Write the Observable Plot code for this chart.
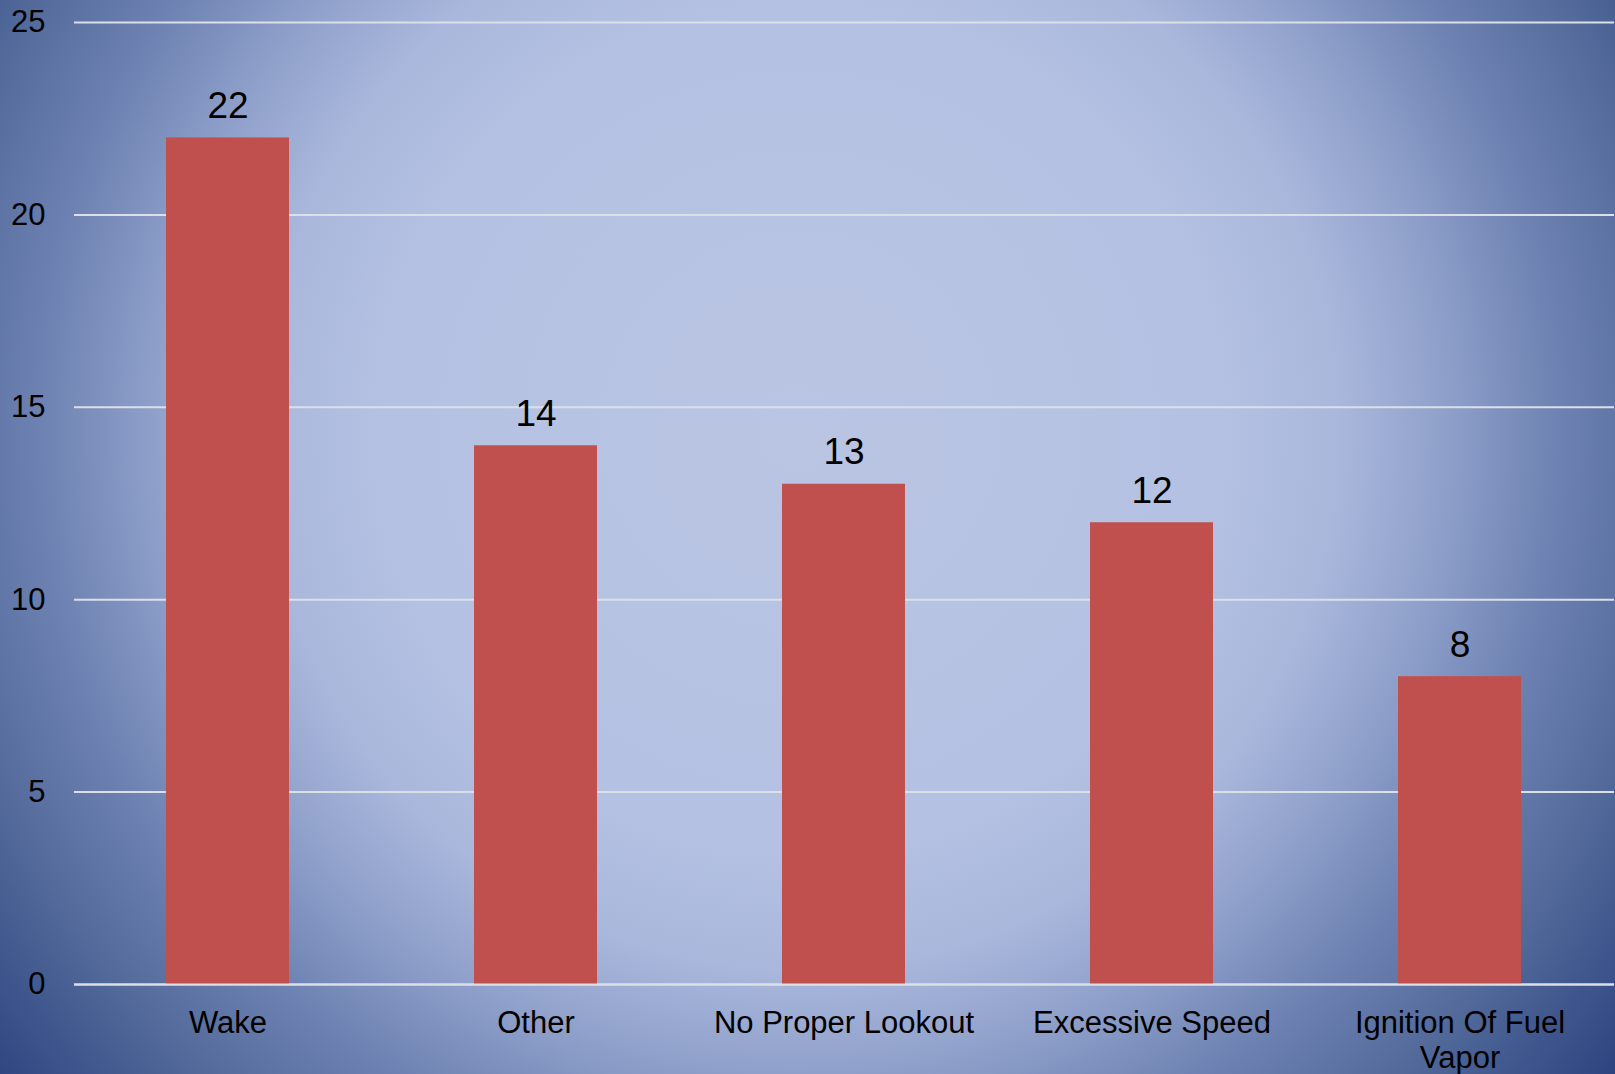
<!DOCTYPE html>
<html>
<head>
<meta charset="utf-8">
<script src="https://cdn.jsdelivr.net/npm/d3@7"></script>
<script src="https://cdn.jsdelivr.net/npm/@observablehq/plot@0.6"></script>
<style>
  html, body { margin: 0; padding: 0; overflow: hidden; background: #2c4380; }
  #chart svg { display: block; }
</style>
</head>
<body>
<div id="chart"></div>
<script>
const categories = ["Wake", "Other", "No Proper Lookout", "Excessive Speed", "Ignition Of Fuel Vapor"];
const values = [22, 14, 13, 12, 8];
const tickLabels = ["Wake", "Other", "No Proper Lookout", "Excessive Speed", "Ignition Of Fuel\nVapor"];
const yTicks = [0, 5, 10, 15, 20, 25];

const data = categories.map((c, i) => ({category: c, value: values[i]}));

const bg = "radial-gradient(circle at 800px 430px, #bac5e3 0px, #b4c1e2 420px, #a9b7dc 540px, #90a1cb 640px, #6d82b2 760px, #52699a 880px, #2c4380 1040px)";

const chart = Plot.plot({
  width: 1615,
  height: 1074,
  marginLeft: 74,
  marginRight: 1,
  marginTop: 22,
  marginBottom: 90,
  style: {
    fontFamily: "'Liberation Sans', Arial, sans-serif",
    fontSize: "31px",
    color: "#000",
    background: bg
  },
  x: {
    domain: categories,
    paddingInner: 0.6,
    paddingOuter: 0.3,
    label: null
  },
  y: {
    domain: [0, 25],
    label: null
  },
  marks: [
    Plot.gridY(yTicks, {stroke: "#dcdfe6", strokeOpacity: 1, strokeWidth: 2}),
    Plot.barY(data, {x: "category", y: "value", fill: "#c0504d"}),
    Plot.gridY([0], {stroke: "#dcdfe6", strokeOpacity: 1, strokeWidth: 2}),
    Plot.axisY(yTicks, {tickSize: 0, tickPadding: 29, fontSize: 31, fill: "#000", label: null}),
    Plot.axisX({tickSize: 0, tickPadding: 23, fontSize: 31, lineHeight: 1.15, fill: "#000", label: null,
      tickFormat: d => tickLabels[categories.indexOf(d)]}),
    Plot.text(data, {x: "category", y: "value", text: d => String(d.value), dy: -20, lineAnchor: "bottom", fontSize: 37, fill: "#000"})
  ]
});

document.getElementById("chart").appendChild(chart);
</script>
</body>
</html>
